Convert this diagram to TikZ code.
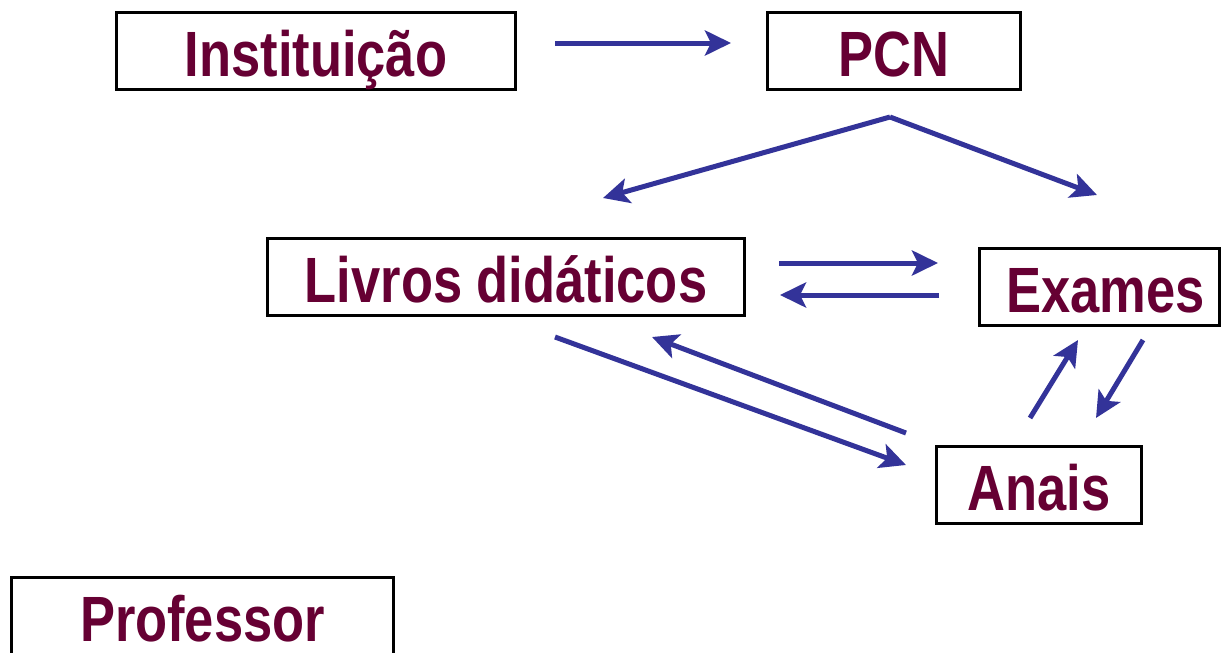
\documentclass[tikz,border=0pt]{standalone}
\usepackage{fontspec}
\newfontfamily\lblfont{Liberation Sans}[FakeStretch=0.82]
\usetikzlibrary{arrows.meta}
\definecolor{maroon}{RGB}{102,0,51}
\definecolor{arrblue}{RGB}{51,51,153}
\begin{document}
\begin{tikzpicture}[x=1pt,y=-1pt,
  box/.style={draw=black, line width=3pt, fill=white, inner sep=0pt, outer sep=0pt,
    anchor=north west, align=center, text=maroon,
    font=\lblfont\bfseries\fontsize{64}{70}\selectfont,
    text height=63.5pt, text depth=13.5pt},
  arr/.style={draw=arrblue, line width=5pt,
    -{Stealth[length=26pt,width=25pt,inset=6pt]}},
  plain/.style={draw=arrblue, line width=5pt, line join=round}]
\useasboundingbox (0,0) rectangle (1221,653);
\fill[white] (0,0) rectangle (1221,653);
% boxes
\node[box, minimum width=399pt] (inst) at (116.5,12.5) {Institui\c{c}\~ao};
\node[box, minimum width=253pt] (pcn) at (767.5,12.5) {PCN};
\node[box, minimum width=477pt] (livros) at (267.5,238.5) {Livros did\'aticos};
\node[box, minimum width=240pt] (exames) at (979.5,248.5) {\hspace*{12pt}Exames};
\node[box, minimum width=205pt] (anais) at (936.5,446.5) {Anais};
\node[box, minimum width=382pt, text depth=18pt] (prof) at (11.5,577.5) {Professor};
% connector end points
\coordinate (i1) at (555,43);   \coordinate (p1) at (731,43);
\coordinate (apex) at (890,117);
\coordinate (lt) at (603,198);  \coordinate (rt) at (1097,195);
\coordinate (le1) at (779,263); \coordinate (ex1) at (938,263);
\coordinate (ex2) at (939,295); \coordinate (le2) at (780,295);
\coordinate (la1) at (555,337); \coordinate (an1) at (906,465);
\coordinate (an2) at (906,433); \coordinate (la2) at (652,337);
\coordinate (an3) at (1030,418); \coordinate (ex3) at (1078,340);
\coordinate (ex4) at (1143,340); \coordinate (an4) at (1096,418);
% connectors
\draw[arr] (i1) -- (p1);
\draw[arr] (apex) -- (lt);
\draw[arr] (apex) -- (rt);
\draw[arr] (le1) -- (ex1);
\draw[arr] (ex2) -- (le2);
\draw[arr] (la1) -- (an1);
\draw[arr] (an2) -- (la2);
\draw[arr] (an3) -- (ex3);
\draw[arr] (ex4) -- (an4);
\end{tikzpicture}
\end{document}
